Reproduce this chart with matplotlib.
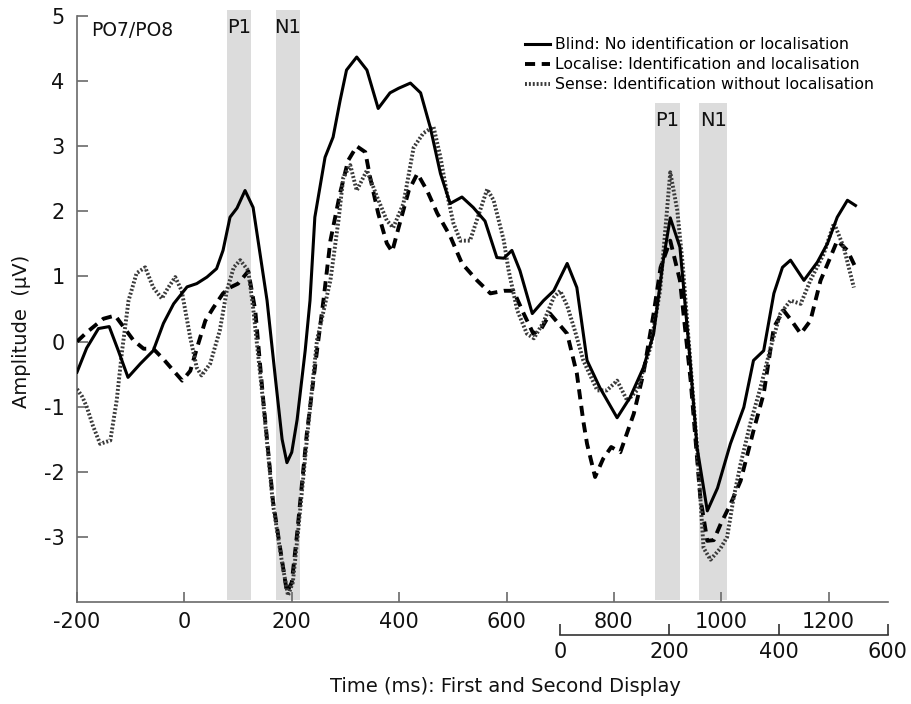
import matplotlib
matplotlib.use("Agg")
import matplotlib.pyplot as plt

plt.rcParams['font.family'] = ['DejaVu Sans']
plt.rcParams['axes.unicode_minus'] = False

# ERP waveforms at PO7/PO8 (time in ms, amplitude in microvolts)
blind_t = [-200, -182, -160, -140, -123, -105, -82, -58, -39, -20, 5, 23, 42, 60, 72, 85, 98, 113,
           128, 140, 154, 170, 182, 191, 200, 210, 225, 234, 243, 262, 277, 290, 302, 321, 340, 361,
           383, 399, 421, 440, 458, 477, 495, 517, 538, 560, 582, 595, 610, 625, 648, 669, 688, 713,
           731, 750, 774, 806, 830, 855, 874, 892, 905, 923, 940, 955, 974, 993, 1017, 1042, 1060,
           1079, 1098, 1114, 1129, 1154, 1179, 1198, 1216, 1235, 1250]
blind_v = [-0.47, -0.1, 0.2, 0.23, -0.14, -0.55, -0.34, -0.14, 0.28, 0.58, 0.84, 0.89, 0.99, 1.12, 1.4,
           1.91, 2.05, 2.32, 2.06, 1.4, 0.63, -0.6, -1.5, -1.86, -1.7, -1.2, -0.14, 0.63, 1.91, 2.83,
           3.14, 3.7, 4.17, 4.37, 4.17, 3.58, 3.82, 3.89, 3.97, 3.82, 3.29, 2.58, 2.12, 2.22, 2.06,
           1.85, 1.29, 1.28, 1.4, 1.09, 0.43, 0.63, 0.78, 1.2, 0.83, -0.29, -0.71, -1.17, -0.86, -0.4,
           0.12, 1.25, 1.9, 1.45, -0.1, -1.63, -2.6, -2.25, -1.57, -1.01, -0.29, -0.14, 0.74, 1.14,
           1.25, 0.94, 1.22, 1.51, 1.91, 2.17, 2.09]

localise_t = [-200, -182, -151, -129, -111, -95, -76, -58, -39, -20, -4, 11, 26, 39, 54, 72, 85, 100,
              119, 132, 147, 165, 182, 191, 200, 210, 228, 247, 259, 272, 290, 305, 321, 337, 346,
              361, 377, 387, 399, 418, 434, 452, 471, 495, 517, 545, 570, 595, 613, 632, 650, 665,
              681, 713, 731, 743, 750, 765, 780, 795, 812, 837, 855, 874, 887, 905, 923, 943, 961,
              974, 986, 999, 1017, 1036, 1060, 1079, 1098, 1116, 1131, 1148, 1166, 1185, 1203, 1216,
              1235, 1250]
localise_v = [0.0, 0.14, 0.35, 0.4, 0.2, 0.02, -0.11, -0.11, -0.27, -0.45, -0.6, -0.45, -0.03, 0.32,
              0.52, 0.74, 0.83, 0.89, 1.08, 0.48, -0.91, -2.45, -3.37, -3.85, -3.7, -2.95, -1.42,
              -0.14, 0.63, 1.55, 2.28, 2.78, 3.0, 2.91, 2.52, 1.97, 1.51, 1.38, 1.75, 2.32, 2.58, 2.32,
              1.97, 1.62, 1.2, 0.94, 0.74, 0.78, 0.78, 0.43, 0.12, 0.2, 0.43, 0.12, -0.49, -1.22,
              -1.57, -2.08, -1.8, -1.62, -1.7, -1.11, -0.49, 0.43, 1.14, 1.55, 0.94, -0.6, -2.4, -3.06,
              -3.05, -2.8, -2.5, -2.14, -1.37, -0.8, 0.22, 0.48, 0.32, 0.12, 0.32, 0.94, 1.29, 1.55,
              1.4, 1.14]

sense_t = [-200, -190, -182, -170, -157, -138, -126, -116, -104, -89, -73, -58, -42, -30, -17, -5, 11,
           23, 32, 48, 66, 79, 92, 104, 119, 128, 147, 165, 182, 193, 202, 212, 230, 247, 272, 287,
           296, 309, 321, 340, 359, 377, 389, 408, 427, 445, 464, 477, 489, 501, 514, 532, 551, 564,
           576, 595, 604, 620, 638, 651, 669, 688, 700, 713, 728, 743, 769, 787, 806, 825, 843, 868,
           886, 905, 918, 928, 955, 967, 980, 999, 1011, 1023, 1036, 1054, 1073, 1092, 1110, 1129,
           1148, 1166, 1191, 1210, 1228, 1247]
sense_v = [-0.73, -0.85, -1.0, -1.3, -1.57, -1.52, -0.9, -0.14, 0.63, 1.05, 1.14, 0.83, 0.66, 0.83,
           0.99, 0.78, 0.06, -0.4, -0.52, -0.34, 0.17, 0.78, 1.14, 1.25, 1.09, 0.52, -0.95, -2.5,
           -3.4, -3.9, -3.7, -2.9, -1.35, 0.02, 0.94, 1.86, 2.52, 2.71, 2.32, 2.63, 2.22, 1.86, 1.75,
           2.12, 2.98, 3.2, 3.3, 2.83, 2.28, 1.82, 1.55, 1.55, 2.02, 2.34, 2.17, 1.55, 1.09, 0.48,
           0.12, 0.05, 0.3, 0.68, 0.78, 0.55, 0.15, -0.29, -0.75, -0.75, -0.6, -0.91, -0.75, -0.09,
           0.78, 2.6, 2.02, 1.2, -1.63, -3.17, -3.35, -3.17, -3.0, -2.4, -1.88, -1.26, -0.71, -0.09,
           0.43, 0.63, 0.58, 0.94, 1.35, 1.82, 1.45, 0.83]

labels = ["Blind: No identification or localisation",
          "Localise: Identification and localisation",
          "Sense: Identification without localisation"]

# component windows (ms) and their labels
windows = [(80, 125), (170, 216), (877, 923), (959, 1011)]
window_names = ["P1", "N1", "P1", "N1"]
window_tops = [5.09, 5.09, 3.66, 3.66]
shade_bottom = -3.97

second_display_onset = 700
second_ticks = [0, 200, 400, 600]

fig = plt.figure(figsize=(9.12, 7.04), dpi=100)
W, H = 912.0, 704.0
ax = fig.add_axes([77 / W, (H - 602) / H, (887.7 - 77) / W, (602 - 3) / H])
ax.set_xlim(-200, 1310)
ax.set_ylim(-4, 5.2)

for (a, b), name, top in zip(windows, window_names, window_tops):
    ax.fill_between([a, b], shade_bottom, top, color='#dcdcdc', lw=0, zorder=0)
    ax.text((a + b) / 2, top - 0.27, name, ha='center', va='center', fontsize=14, color='#111111')

ax.plot(blind_t, blind_v, color='black', lw=2.2, label=labels[0], zorder=4)
ax.plot(localise_t, localise_v, color='black', lw=2.8, dashes=(2.6, 1.7), label=labels[1], zorder=3)
ax.plot(sense_t, sense_v, color='#3a3a3a', lw=2.8, dashes=(0.5, 0.5), label=labels[2], zorder=3)

ax.text(-174, 4.77, "PO7/PO8", ha='left', va='center', fontsize=13.5, color='#111111')

for s in ['top', 'right']:
    ax.spines[s].set_visible(False)
for s in ['left', 'bottom']:
    ax.spines[s].set_color('#6a6a6a')
    ax.spines[s].set_linewidth(1.2)
ax.spines['left'].set_bounds(-4, 5)

ax.set_xticks(range(-200, 1201, 200))
ax.set_yticks([5, 4, 3, 2, 1, 0, -1, -2, -3])
ax.tick_params(axis='both', direction='in', colors='#6a6a6a', labelcolor='#111111',
               labelsize=15, width=1.2)
ax.tick_params(axis='x', length=7, pad=7)
ax.tick_params(axis='y', length=8, pad=9)

leg = ax.legend(loc='upper left', bbox_to_anchor=(525 / W, (H - 37) / H),
                bbox_transform=fig.transFigure, frameon=False, fontsize=11.3,
                handlelength=1.6, handletextpad=0.3, labelspacing=0.32,
                borderpad=0, borderaxespad=0)

# second display time axis
x0 = fig.transFigure.inverted().transform(ax.transData.transform((second_display_onset, 0)))[0]
x1 = ax.get_position().x1
ax2 = fig.add_axes([x0, (H - 635) / H, x1 - x0, 0.001])
ax2.set_xlim(second_ticks[0], second_ticks[-1])
ax2.set_yticks([])
for s in ['top', 'right', 'left']:
    ax2.spines[s].set_visible(False)
ax2.spines['bottom'].set_color('#333333')
ax2.spines['bottom'].set_linewidth(1.2)
ax2.patch.set_alpha(0)
ax2.set_xticks(second_ticks)
ax2.tick_params(axis='x', direction='in', length=8, width=1.2, colors='#333333',
                labelcolor='#111111', labelsize=15, pad=5)

fig.text(22 / W, 1 - 331 / H, "Amplitude  (\u00b5V)", rotation=90, ha='center', va='center',
         fontsize=14, color='#111111')
fig.text(505 / W, 1 - 687 / H, "Time (ms): First and Second Display", ha='center', va='center',
         fontsize=14, color='#111111')

fig.savefig("out.png", dpi=100)
